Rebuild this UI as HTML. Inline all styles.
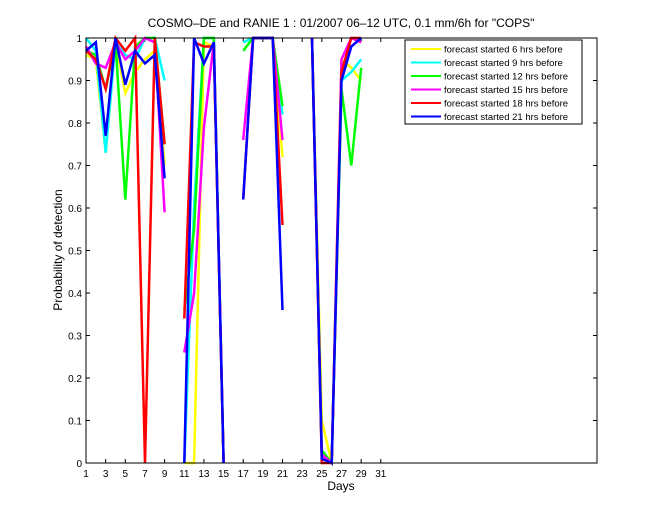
<!DOCTYPE html>
<html><head><meta charset="utf-8"><style>
body{margin:0;background:#fff;}
svg{display:block;font-family:"Liberation Sans",sans-serif;}
</style></head><body>
<svg id="chart" width="660" height="520" xmlns="http://www.w3.org/2000/svg">
<rect x="0" y="0" width="660" height="520" fill="#fff"/>
<text x="341" y="27" font-size="12" text-anchor="middle">COSMO–DE and RANIE 1 : 01/2007 06–12 UTC, 0.1 mm/6h for "COPS"</text>
<text x="341" y="490" font-size="12" text-anchor="middle">Days</text>
<text x="62" y="250" font-size="12" text-anchor="middle" transform="rotate(-90 62 250)">Probability of detection</text>
<g id="ticks"></g>
<g id="series"></g>
<rect x="86" y="38" width="511" height="425" fill="none" stroke="#000" stroke-width="1"/>
<g id="legend"></g>
</svg>
<script>
const days=[1,2,3,4,5,6,7,8,9,10,11,12,13,14,15,16,17,18,19,20,21,22,23,24,25,26,27,28,29];
const xTicks=[1,3,5,7,9,11,13,15,17,19,21,23,25,27,29,31];
const yTicks=[0,0.1,0.2,0.3,0.4,0.5,0.6,0.7,0.8,0.9,1];
const seriesNames=["forecast started 6 hrs before","forecast started 9 hrs before","forecast started 12 hrs before","forecast started 15 hrs before","forecast started 18 hrs before","forecast started 21 hrs before"];
const seriesColors=["#ffff00","#00ffff","#00ff00","#ff00ff","#ff0000","#0000ff"];
const N=null;
const s6 =[.96,.95,.73,.99,.87,.92,.95,.97,.70,N,0,0,.99,.98,0,N,.99,1,1,1,.72,N,N,1,.10,0,.95,.93,.90];
const s9 =[1,.97,.73,.99,.96,.95,1,1,.90,N,0,.60,1,1,0,N,.99,1,1,1,.82,N,N,1,.02,0,.90,.92,.95];
const s12=[.97,.96,.88,.99,.62,.98,1,1,.75,N,.36,.55,1,1,0,N,.97,1,1,1,.84,N,N,1,.03,0,.88,.70,.93];
const s15=[.98,.94,.93,.99,.95,.97,1,.99,.59,N,.26,.40,.79,.99,0,N,.76,1,1,1,.76,N,N,1,.02,0,.95,1,.99];
const s18=[.97,.95,.88,1,.97,1,0,1,.75,N,.34,.99,.98,.98,0,N,.62,1,1,1,.56,N,N,1,0,0,.92,1,1];
const s21=[.97,.99,.77,1,.89,.97,.94,.96,.67,N,0,1,.94,.99,0,N,.62,1,1,1,.36,N,N,1,.01,0,.90,.98,1];
const allSeries=[s6,s9,s12,s15,s18,s21];
const X0=86,X1=597,Y0=463,Y1=38,XMIN=1,XMAX=53;
const xs=d=>X0+(d-XMIN)/(XMAX-XMIN)*(X1-X0);
const ys=v=>Y0-v*(Y0-Y1);
const NS="http://www.w3.org/2000/svg";
const tg=document.getElementById('ticks');
function mk(tag,attrs,parent){const e=document.createElementNS(NS,tag);for(const k in attrs)e.setAttribute(k,attrs[k]);parent.appendChild(e);return e;}
xTicks.forEach(t=>{
  const x=xs(t);
  const l=mk('line',{x1:x,x2:x,y1:Y0,y2:Y0-4,stroke:'#000'},tg);
  
  
  const l2=mk('line',{x1:x,x2:x,y1:Y1,y2:Y1+4,stroke:'#000'},tg);
  
  
  const tx=mk('text',{x:x,y:Y0+14,'font-size':10,'text-anchor':'middle'},tg);
  tx.textContent=t;
  
  
});
yTicks.forEach(t=>{
  const y=ys(t);
  const l=mk('line',{x1:X0,x2:X0+4,y1:y,y2:y,stroke:'#000'},tg);
  
  
  const l2=mk('line',{x1:X1,x2:X1-4,y1:y,y2:y,stroke:'#000'},tg);
  
  
  const tx=mk('text',{x:X0-4,y:y+4,'font-size':10,'text-anchor':'end'},tg);
  tx.textContent=t;
  
  
});
const sg=document.getElementById('series');
allSeries.forEach((s,i)=>{
  let d='',pen=false;
  s.forEach((v,j)=>{
    if(v===null){pen=false;return;}
    d+=(pen?'L':'M')+xs(days[j]).toFixed(1)+' '+ys(v).toFixed(1)+' ';
    pen=true;
  });
  const p=mk('path',{d:d,fill:'none',stroke:seriesColors[i],'stroke-width':2.5,'stroke-linejoin':'miter'},sg);
  
  
});
const lg=document.getElementById('legend');
const lb=mk('rect',{x:405,y:40,width:177,height:84,fill:'#fff',stroke:'#000'},lg);


seriesNames.forEach((n,i)=>{
  const y=49+i*13.5;
  const l=mk('line',{x1:411,x2:441,y1:y,y2:y,stroke:seriesColors[i],'stroke-width':2},lg);
  
  
  const t=mk('text',{x:444,y:y+3.5,'font-size':9.5},lg);
  t.textContent=n;
  
  
});
</script>
</body></html>
